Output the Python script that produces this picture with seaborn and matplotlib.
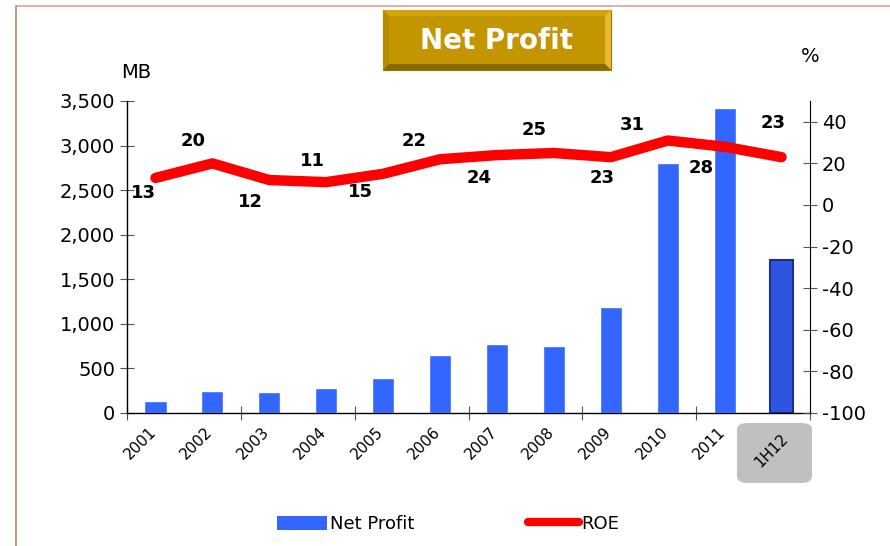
import numpy as np
import matplotlib.pyplot as plt
import seaborn as sns
from matplotlib.patches import FancyBboxPatch, Rectangle, Polygon, Patch
from matplotlib.lines import Line2D
from matplotlib.ticker import FuncFormatter, FixedLocator
from matplotlib.transforms import ScaledTranslation

# data
periods = ["2001", "2002", "2003", "2004", "2005", "2006",
           "2007", "2008", "2009", "2010", "2011", "1H12"]
net_profit = [130, 250, 235, 280, 390, 650, 775, 750, 1190, 2800, 3420, 1720]
roe = [13, 20, 12, 11, 15, 22, 24, 25, 23, 31, 28, 23]

# label offsets in pixels (dx, dy) - placed by hand like in the source
lbl_dx = [-12, -19, -19, -14, -23, -26, -18, -20, -9, -35, -23, -8]
lbl_dy = [-15, 22, -22, 21, -18, 18, -23, 23, -21, 16, -21, 34]

sns.set_style("white")
plt.rcParams["font.family"] = ["DejaVu Sans"]
plt.rcParams["axes.unicode_minus"] = False

W, H = 890, 546
fig = plt.figure(figsize=(8.9, 5.46), dpi=100)
ax = fig.add_axes([127 / W, 1 - 413 / H, 683 / W, 312 / H])

bar_col = "#3366FF"
sns.barplot(x=periods, y=net_profit, ax=ax, color=bar_col, width=0.39,
            saturation=1, zorder=2)
# last bar (half year) drawn darker with edge, like the 3d style in the source
last = ax.patches[-1]
last.set_facecolor("#2F55E0")
last.set_edgecolor("#1B2F8C")
last.set_linewidth(1.5)

ax.set_ylim(0, 3500)
ax.set_xlim(-0.5, len(periods) - 0.5)
ax.set_yticks(np.arange(0, 3501, 500))
ax.yaxis.set_major_formatter(FuncFormatter(lambda v, p: f"{int(v):,}"))
ax.set_xlabel("")
ax.set_ylabel("")
for s in ["top", "right"]:
    ax.spines[s].set_visible(False)
for s in ["left", "bottom"]:
    ax.spines[s].set_color("black")
    ax.spines[s].set_linewidth(1)
ax.tick_params(axis="y", direction="inout", length=10, width=0.8,
               labelsize=14, left=True, color="#555555", labelcolor="black")
ax.set_xticks(range(len(periods)))
ax.set_xticklabels(periods, rotation=45, fontsize=11, ha="right",
                   va="center", rotation_mode="anchor", color="black")
ax.tick_params(axis="x", which="major", length=0, pad=12)
xt = ax.get_xticklabels()
for t in xt[:-1]:
    t.set_transform(t.get_transform() + ScaledTranslation(-2 / 100, 0, fig.dpi_scale_trans))
# the half-year label sits a bit lower, centred in its grey box
xt[-1].set_transform(xt[-1].get_transform() + ScaledTranslation(4 / 100, -7 / 100, fig.dpi_scale_trans))
ax.xaxis.set_minor_locator(FixedLocator(np.arange(-0.5, len(periods), 2)))
ax.tick_params(axis="x", which="minor", direction="inout", length=10,
               width=0.8, color="#555555", bottom=True)

# ROE line on the right axis
ax2 = ax.twinx()
sns.lineplot(x=np.arange(len(periods)), y=roe, ax=ax2, color="#FF0000",
             linewidth=7.5, solid_capstyle="round", zorder=3)
ax2.set_ylim(-100, 50)
ax2.set_yticks(np.arange(-100, 41, 20))
ax2.tick_params(axis="y", direction="inout", length=10, width=0.8,
                labelsize=14, right=True, color="#555555", labelcolor="black")
for s in ["top", "left", "bottom"]:
    ax2.spines[s].set_visible(False)
ax2.spines["right"].set_color("black")
ax2.set_ylabel("")

for i, v in enumerate(roe):
    ax2.annotate(str(v), (i, v), xytext=(lbl_dx[i], lbl_dy[i]),
                 textcoords="offset pixels", ha="center", va="center",
                 fontsize=13, fontweight="bold", color="black", zorder=4)

# grey rounded box behind the 1H12 label
fig.add_artist(FancyBboxPatch((737 / W, 1 - 483 / H), 75 / W, 60 / H,
                              boxstyle="round,pad=0,rounding_size=0.012",
                              transform=fig.transFigure, fc="#C0C0C0",
                              ec="none", zorder=0))

# axis unit labels
fig.text(136 / W, 1 - 72 / H, "MB", ha="center", va="center", fontsize=14,
         color="black")
fig.text(810 / W, 1 - 56 / H, "%", ha="center", va="center", fontsize=14,
         color="black")


# title box with a bevelled look
def px(x, y):
    return (x / W, 1 - y / H)


x0, x1, y0, y1, b = 383, 611, 10, 70, 6
fig.add_artist(Rectangle(px(x0, y1), (x1 - x0) / W, (y1 - y0) / H,
                         transform=fig.transFigure, fc="#C39500",
                         ec="#9A7600", lw=0.8, zorder=5))
bevels = [
    ([px(x0, y0), px(x1, y0), px(x1 - b, y0 + b), px(x0 + b, y0 + b)], "#D2A40C"),
    ([px(x1, y0), px(x1, y1), px(x1 - b, y1 - b), px(x1 - b, y0 + b)], "#E8B833"),
    ([px(x0, y1), px(x1, y1), px(x1 - b, y1 - b), px(x0 + b, y1 - b)], "#8A6800"),
    ([px(x0, y0), px(x0, y1), px(x0 + b, y1 - b), px(x0 + b, y0 + b)], "#B88C00"),
]
for pts, c in bevels:
    fig.add_artist(Polygon(pts, closed=True, transform=fig.transFigure,
                           fc=c, ec="none", zorder=6))
fig.text(497 / W, 1 - 41 / H, "Net Profit", ha="center", va="center",
         fontsize=20, fontweight="bold", color="white", zorder=7)

# page frame lines
fig.add_artist(Line2D([16 / W, 1], [1 - 6 / H, 1 - 6 / H],
                      transform=fig.transFigure, color="#D9A595", lw=1.2))
fig.add_artist(Line2D([16 / W, 16 / W], [0, 1 - 6 / H],
                      transform=fig.transFigure, color="#C8805F", lw=1.2))

# legend
handles = [Patch(facecolor=bar_col, edgecolor="none", label="Net Profit"),
           Line2D([0], [0], color="#FF0000", lw=6, solid_capstyle="round",
                  label="ROE")]
fig.legend(handles=handles, loc="center", bbox_to_anchor=(448 / W, 1 - 524 / H),
           ncol=2, frameon=False, fontsize=13, handlelength=2.8,
           handleheight=0.8, handletextpad=0.15, columnspacing=6.3,
           labelcolor="black")

fig.savefig("out.png", dpi=100)
